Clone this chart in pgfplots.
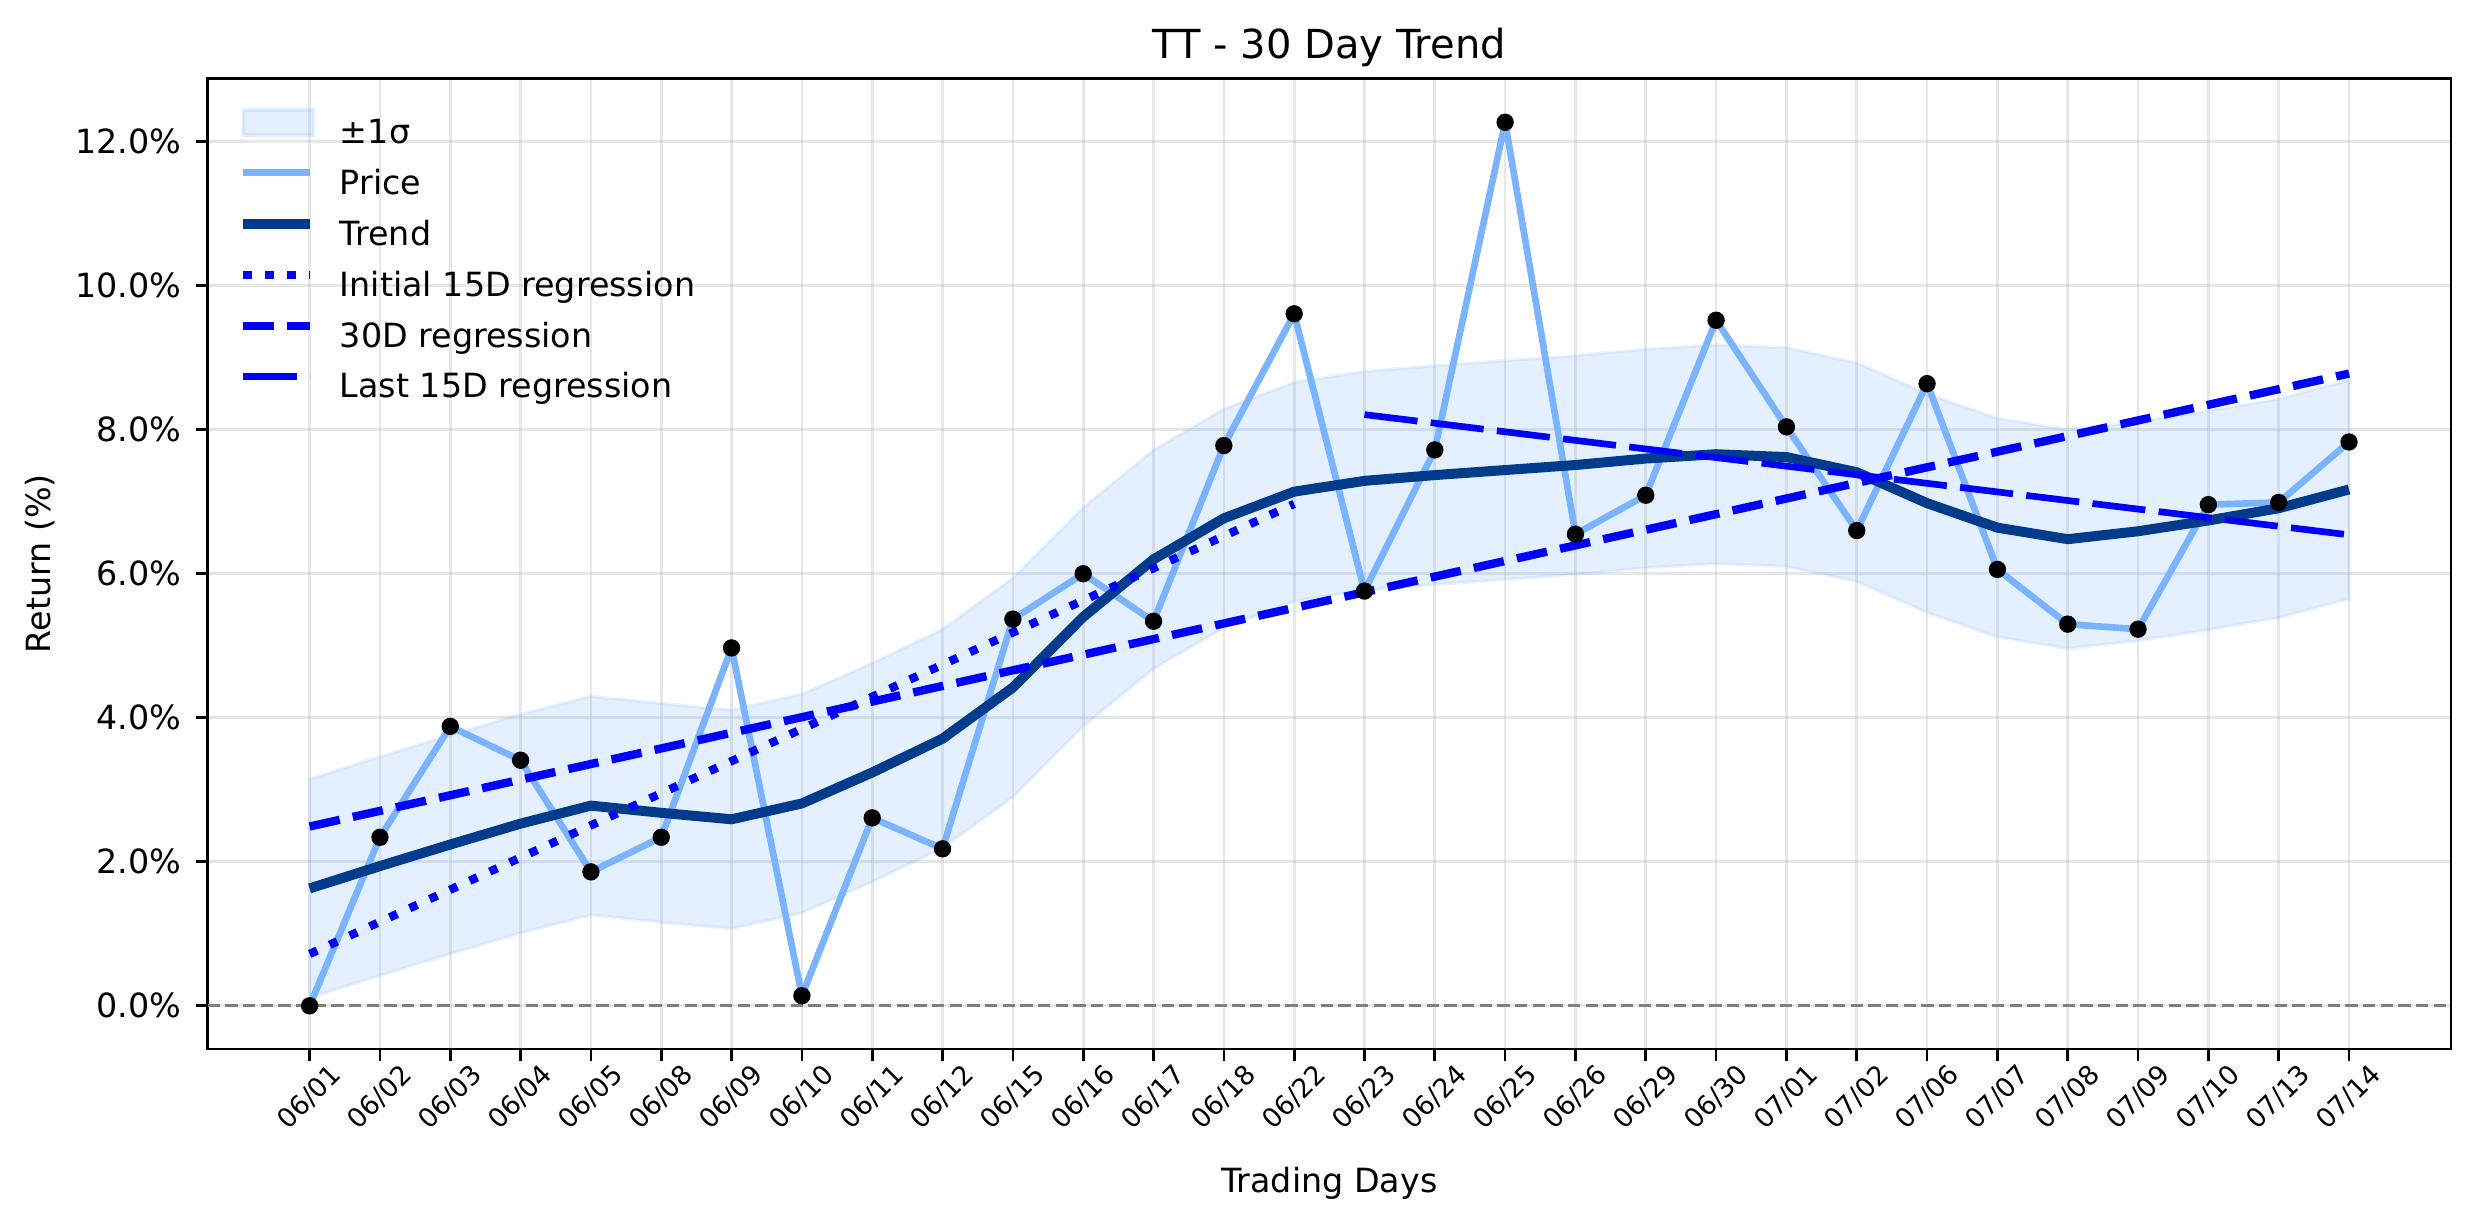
\documentclass[border=0pt]{standalone}
\usepackage{fontspec}
\setmainfont{DejaVu Sans}
\usepackage{pgfplots}
\pgfplotsset{compat=1.18}
\definecolor{pricec}{RGB}{122,180,255}
\definecolor{trendc}{RGB}{0,59,140}
\definecolor{bandc}{RGB}{122,180,255}
\definecolor{gridc}{RGB}{176,176,176}
\definecolor{regc}{RGB}{0,0,255}
\begin{document}
\begin{tikzpicture}
\useasboundingbox (-62.3pt,-52.5pt) rectangle (679.9pt,314.7pt);
\begin{axis}[
  at={(0,0)}, anchor=south west,
  scale only axis, width=673pt, height=291.2pt,
  xmin=-1.45, xmax=30.45, ymin=-0.6, ymax=12.88,
  axis line style={line width=0.8pt},
  tick pos=left, tick align=outside, major tick length=3.5pt,
  tick style={black, line width=0.8pt},
  xtick={0,...,29},
  xticklabels={06/01,06/02,06/03,06/04,06/05,06/08,06/09,06/10,06/11,06/12,06/15,06/16,06/17,06/18,06/22,06/23,06/24,06/25,06/26,06/29,06/30,07/01,07/02,07/06,07/07,07/08,07/09,07/10,07/13,07/14},
  ytick={0,2,4,6,8,10,12},
  yticklabels={0.0\%,2.0\%,4.0\%,6.0\%,8.0\%,10.0\%,12.0\%},
  grid=major, major grid style={gridc, opacity=0.3, line width=0.8pt},
  xticklabel style={font=\fontsize{8}{9.6}\selectfont, rotate=45, anchor=center, inner sep=0pt},
  xticklabel shift=11.1pt,
  yticklabel style={font=\fontsize{10}{12}\selectfont, anchor=east, inner xsep=0pt},
  yticklabel shift=4.3pt,
  title={TT - 30 Day Trend},
  every axis title/.style={font=\fontsize{12}{14.4}\selectfont, at={(axis description cs:0.5,1)}, anchor=base, yshift=6pt},
  xlabel={Trading Days},
  xlabel style={font=\fontsize{10}{12}\selectfont, at={(axis description cs:0.5,-0.1477)}, anchor=base},
  ylabel={Return (\%)},
  ylabel style={font=\fontsize{10}{12}\selectfont, at={(axis description cs:-0.0747,0.5)}, anchor=center},
  legend style={at={(axis description cs:0,1)}, anchor=north west, xshift=9.2pt, yshift=-9pt,
    draw=none, fill=none, inner sep=0pt, outer sep=0pt, row sep=5.3pt,
    font=\fontsize{10}{12}\selectfont,
    nodes={inner sep=0pt, text height=7.5pt, text depth=2.3pt},
    /tikz/every odd column/.append style={column sep=7.5pt}},
  legend cell align=left,
  legend image code/.code={\draw[#1, line cap=butt] (0pt,3.8pt) -- (20pt,3.8pt);},
]
% zero line
\addplot[forget plot, color={rgb,255:red,128;green,128;blue,128}, line width=1pt, dash pattern=on 3.7pt off 1.6pt]
  coordinates {(-1.45,0) (30.45,0)};
% band
\addplot[fill=bandc, fill opacity=0.2, draw=bandc, draw opacity=0.15, line width=1pt,
  legend image code/.code={\fill[bandc, opacity=0.2] (0pt,0pt) rectangle (21pt,7.5pt);}]
  coordinates {
  (0,3.15) (1,3.46) (2,3.76) (3,4.05) (4,4.30) (5,4.20) (6,4.11) (7,4.33) (8,4.76) (9,5.23)
  (10,5.94) (11,6.92) (12,7.72) (13,8.29) (14,8.66) (15,8.81) (16,8.89) (17,8.96) (18,9.03) (19,9.12)
  (20,9.18) (21,9.14) (22,8.93) (23,8.50) (24,8.16) (25,8.00) (26,8.11) (27,8.26) (28,8.43) (29,8.69)
  (29,5.65) (28,5.39) (27,5.22) (26,5.07) (25,4.96) (24,5.12) (23,5.46) (22,5.89) (21,6.10) (20,6.14)
  (19,6.08) (18,5.99) (17,5.92) (16,5.85) (15,5.77) (14,5.62) (13,5.25) (12,4.68) (11,3.88) (10,2.90)
  (9,2.19) (8,1.72) (7,1.29) (6,1.07) (5,1.16) (4,1.26) (3,1.01) (2,0.72) (1,0.42) (0,0.11)
  } -- cycle;
\addlegendentry{±1σ}
% price
\addplot[pricec, line width=2pt, line join=round] coordinates {
  (0,0.00) (1,2.34) (2,3.88) (3,3.41) (4,1.86) (5,2.34) (6,4.97) (7,0.14) (8,2.61) (9,2.18)
  (10,5.37) (11,6.00) (12,5.34) (13,7.78) (14,9.61) (15,5.76) (16,7.72) (17,12.27) (18,6.55) (19,7.09)
  (20,9.52) (21,8.04) (22,6.60) (23,8.64) (24,6.06) (25,5.30) (26,5.23) (27,6.96) (28,6.99) (29,7.83)};
\addlegendentry{Price}
% trend
\addplot[trendc, line width=3pt, line join=round] coordinates {
  (0,1.63) (1,1.94) (2,2.24) (3,2.53) (4,2.78) (5,2.68) (6,2.59) (7,2.81) (8,3.24) (9,3.71)
  (10,4.42) (11,5.40) (12,6.20) (13,6.77) (14,7.14) (15,7.29) (16,7.37) (17,7.44) (18,7.51) (19,7.60)
  (20,7.66) (21,7.62) (22,7.41) (23,6.98) (24,6.64) (25,6.48) (26,6.59) (27,6.74) (28,6.91) (29,7.17)};
\addlegendentry{Trend}
% regressions
\addplot[regc, line width=2.5pt, dash pattern=on 2.5pt off 4.1pt] coordinates {(0,0.72) (14,6.97)};
\addlegendentry{Initial 15D regression}
\addplot[regc, line width=2.5pt, dash pattern=on 9.25pt off 4pt] coordinates {(0,2.49) (29,8.78)};
\addlegendentry{30D regression}
\addplot[regc, line width=2pt, dash pattern=on 16pt off 4pt] coordinates {(15,8.21) (29,6.54)};
\addlegendentry{Last 15D regression}
% markers
\addplot[forget plot, only marks, mark=*, mark size=2.4pt, black] coordinates {
  (0,0.00) (1,2.34) (2,3.88) (3,3.41) (4,1.86) (5,2.34) (6,4.97) (7,0.14) (8,2.61) (9,2.18)
  (10,5.37) (11,6.00) (12,5.34) (13,7.78) (14,9.61) (15,5.76) (16,7.72) (17,12.27) (18,6.55) (19,7.09)
  (20,9.52) (21,8.04) (22,6.60) (23,8.64) (24,6.06) (25,5.30) (26,5.23) (27,6.96) (28,6.99) (29,7.83)};
\end{axis}
\end{tikzpicture}
\end{document}
